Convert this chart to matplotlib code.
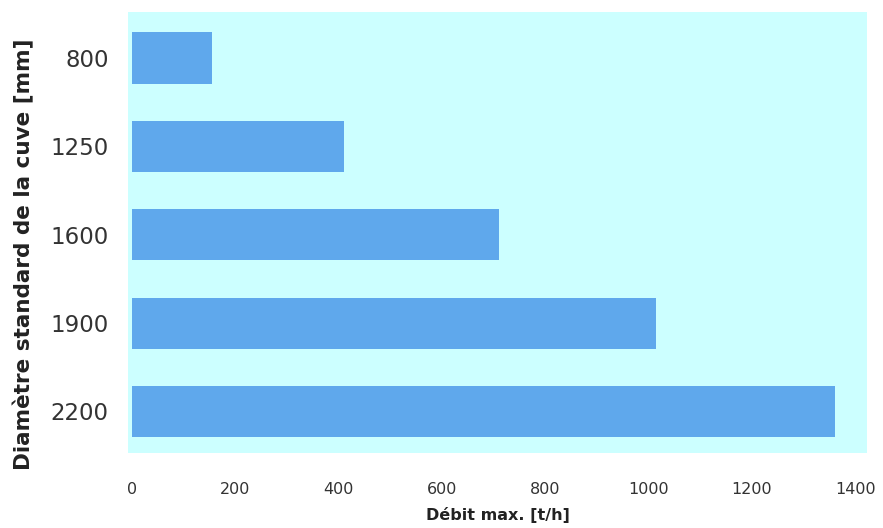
import matplotlib.pyplot as plt
import numpy as np

# Tank diameters and their maximum throughput
diametres = ['800', '1250', '1600', '1900', '2200']
debit_max = [155, 410, 710, 1015, 1360]
x_ticks = [0, 200, 400, 600, 800, 1000, 1200, 1400]

fig = plt.figure(figsize=(8.83, 5.28), dpi=100)
ax = fig.add_axes([0.145, 0.142, 0.837, 0.835])

y = np.arange(len(diametres))
ax.barh(y, debit_max, height=0.58, color='#5fa8ec', left=0)

ax.set_facecolor('#ccffff')
for side in ax.spines.values():
    side.set_visible(False)

ax.set_ylim(4.47, -0.52)
ax.set_xlim(-7, 1423)
ax.set_yticks(y)
ax.set_yticklabels(diametres, fontsize=16.5, color='#333333')
ax.set_xticks(x_ticks)
ax.set_xticklabels([str(t) for t in x_ticks], fontsize=11.5, color='#333333')
ax.tick_params(axis='y', length=0, pad=14)
ax.tick_params(axis='x', length=0, pad=21)

ax.set_xlabel('Débit max. [t/h]', fontsize=11.5, fontweight='bold', color='#222222', labelpad=7)
ax.set_ylabel('Diamètre standard de la cuve [mm]', fontsize=15.5, fontweight='bold',
              color='#222222')
ax.yaxis.set_label_coords(-0.127, 0.45)

fig.savefig('out.png', dpi=100)
